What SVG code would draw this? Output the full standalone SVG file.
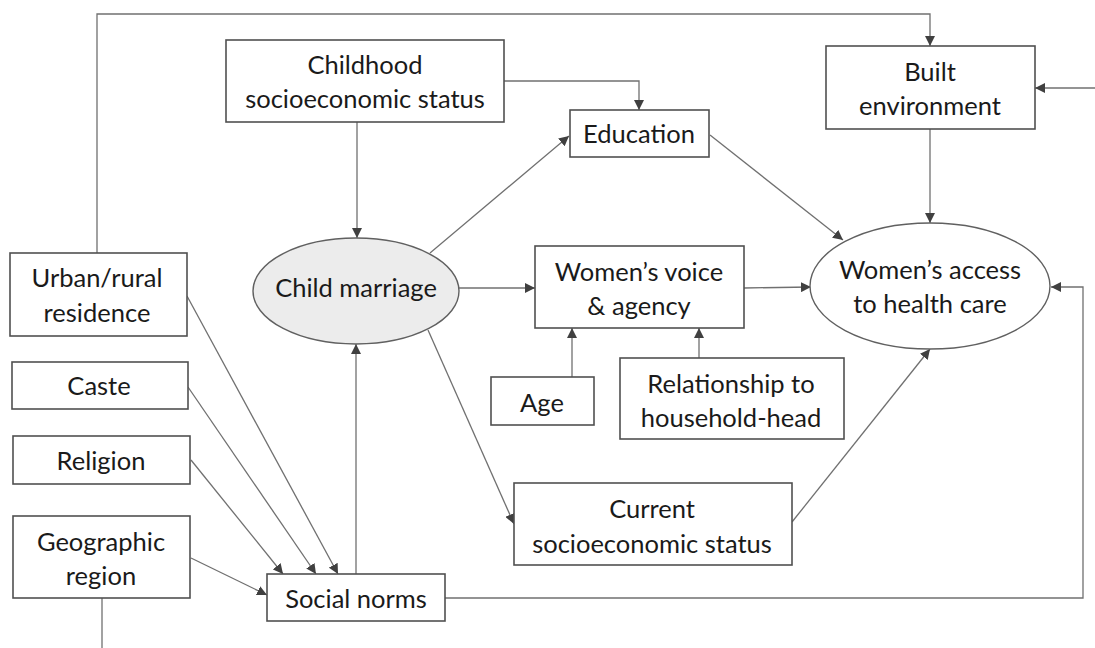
<svg xmlns="http://www.w3.org/2000/svg" width="1095" height="648" viewBox="0 0 1095 648">
<defs>
<marker id="ah" viewBox="0 0 10 10" refX="10" refY="5" markerWidth="10" markerHeight="10" markerUnits="userSpaceOnUse" orient="auto">
<path d="M0,0 L10,5 L0,10 z" fill="#404040"/>
</marker>
<style>
.box{fill:#ffffff;stroke:#505050;stroke-width:1.6}
.ell{stroke:#606060;stroke-width:1.4}
.t{font-family:Lato,"Liberation Sans",sans-serif;font-size:25.5px;fill:#1a1a1a;text-anchor:middle;dominant-baseline:central}
.c{fill:none;stroke:#707070;stroke-width:1.3}
.a{marker-end:url(#ah)}
</style>
</defs>
<rect width="1095" height="648" fill="#ffffff"/>
<g id="connectors">
<polyline class="c a" points="97,253 97,14 930,14 930,46"/>
<line class="c a" x1="1095" y1="88" x2="1035" y2="88"/>
<polyline class="c a" points="504,81 639,81 639,110"/>
<line class="c a" x1="357" y1="122" x2="357" y2="238"/>
<line class="c a" x1="430" y1="253" x2="569" y2="136"/>
<line class="c a" x1="710" y1="135" x2="843" y2="240"/>
<line class="c a" x1="930" y1="129" x2="930" y2="223"/>
<line class="c a" x1="459" y1="288" x2="535" y2="288"/>
<line class="c a" x1="744" y1="288" x2="811" y2="287"/>
<line class="c a" x1="572" y1="377" x2="572" y2="328"/>
<line class="c a" x1="699" y1="358" x2="699" y2="328"/>
<line class="c a" x1="428" y1="330" x2="514" y2="524"/>
<line class="c a" x1="792" y1="522" x2="930" y2="349"/>
<polyline class="c a" points="445,598 1083,598 1083,287 1051,287"/>
<line class="c a" x1="356" y1="574" x2="356" y2="344"/>
<line class="c a" x1="187" y1="296" x2="338" y2="574"/>
<line class="c a" x1="188" y1="387" x2="316" y2="574"/>
<line class="c a" x1="191" y1="460" x2="283" y2="574"/>
<line class="c a" x1="191" y1="558" x2="267" y2="595"/>
<line class="c" x1="102" y1="598" x2="102" y2="648"/>
</g>
<g id="childhood-ses">
<rect class="box" x="226" y="40" width="278" height="82"/>
<text class="t" x="365" y="64">Childhood</text>
<text class="t" x="365" y="98">socioeconomic status</text>
</g>
<g id="education">
<rect class="box" x="570" y="110" width="139" height="47"/>
<text class="t" x="639" y="133">Education</text>
</g>
<g id="built-environment">
<rect class="box" x="826" y="46" width="209" height="83"/>
<text class="t" x="930" y="71">Built</text>
<text class="t" x="930" y="105">environment</text>
</g>
<g id="child-marriage">
<ellipse class="ell" cx="356" cy="291" rx="103" ry="53" fill="#ececec"/>
<text class="t" x="356" y="287">Child marriage</text>
</g>
<g id="womens-voice">
<rect class="box" x="535" y="246" width="209" height="82"/>
<text class="t" x="639" y="271">Women’s voice</text>
<text class="t" x="639" y="305">&amp; agency</text>
</g>
<g id="womens-access">
<ellipse class="ell" cx="930" cy="286" rx="120" ry="63" fill="#ffffff"/>
<text class="t" x="930" y="269">Women’s access</text>
<text class="t" x="930" y="303">to health care</text>
</g>
<g id="age">
<rect class="box" x="491" y="377" width="103" height="48"/>
<text class="t" x="542" y="402">Age</text>
</g>
<g id="relationship">
<rect class="box" x="620" y="358" width="224" height="81"/>
<text class="t" x="731" y="383">Relationship to</text>
<text class="t" x="731" y="417">household-head</text>
</g>
<g id="current-ses">
<rect class="box" x="514" y="483" width="278" height="82"/>
<text class="t" x="652" y="508">Current</text>
<text class="t" x="652" y="543">socioeconomic status</text>
</g>
<g id="urban-rural">
<rect class="box" x="10" y="253" width="177" height="83"/>
<text class="t" x="97" y="277">Urban/rural</text>
<text class="t" x="97" y="312">residence</text>
</g>
<g id="caste">
<rect class="box" x="12" y="362" width="176" height="47"/>
<text class="t" x="99" y="385">Caste</text>
</g>
<g id="religion">
<rect class="box" x="13" y="436" width="177" height="48"/>
<text class="t" x="101" y="460">Religion</text>
</g>
<g id="geographic-region">
<rect class="box" x="13" y="516" width="177" height="82"/>
<text class="t" x="101" y="541">Geographic</text>
<text class="t" x="101" y="575">region</text>
</g>
<g id="social-norms">
<rect class="box" x="267" y="574" width="178" height="47"/>
<text class="t" x="356" y="598">Social norms</text>
</g>
</svg>
